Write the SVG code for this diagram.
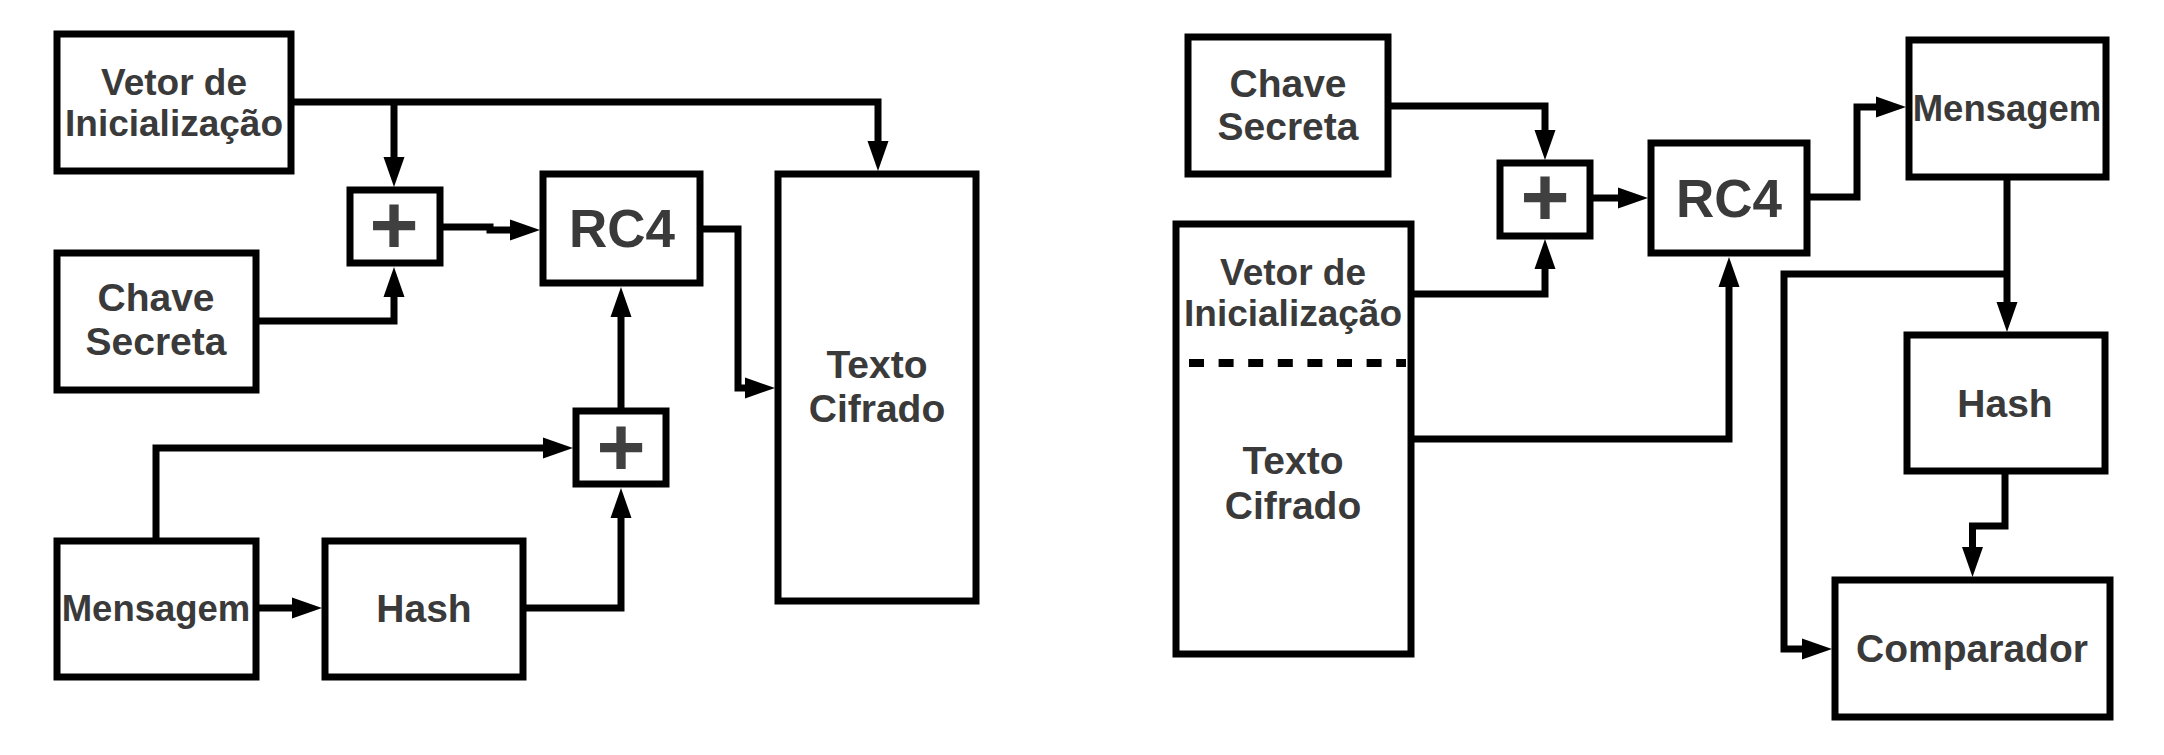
<svg xmlns="http://www.w3.org/2000/svg" width="2164" height="755" viewBox="0 0 2164 755">
<style>
.box{fill:#fff;stroke:#000;stroke-width:7}
.ln{fill:none;stroke:#000;stroke-width:7}
.arr{marker-end:url(#ah)}
.t{font-family:"Liberation Sans",Arial,sans-serif;font-weight:bold;font-size:39px;fill:#3a3a3a;text-anchor:middle}
.s{font-size:37px}
.m{font-size:36.5px}
.big{font-size:53px}
.plus{font-family:"Liberation Sans",Arial,sans-serif;font-weight:bold;font-size:84px;fill:#404040;text-anchor:middle}
.dash{fill:none;stroke:#000;stroke-width:8;stroke-dasharray:15 14.6}
</style>
<defs>
<marker id="ah" markerUnits="userSpaceOnUse" markerWidth="32" markerHeight="22" viewBox="0 -11 32 22" refX="0" refY="0" orient="auto" overflow="visible">
<path d="M0,-10.5 L30,0 L0,10.5 z" fill="#000"/>
</marker>
</defs>
<rect width="2164" height="755" fill="#fff"/>
<g id="connectors">
<path class="ln arr" d="M291,102 H878 V141"/>
<path class="ln arr" d="M394,102 V157"/>
<path class="ln arr" d="M256,321 H394 V297"/>
<path class="ln arr" d="M443,227 H490 V230 H510"/>
<path class="ln arr" d="M700,229 H738 V388 H745"/>
<path class="ln arr" d="M156,541 V448 H543"/>
<path class="ln arr" d="M621,408 V317"/>
<path class="ln arr" d="M256,608 H292"/>
<path class="ln arr" d="M523,608 H621 V518"/>
<path class="ln arr" d="M1388,106 H1545 V130"/>
<path class="ln arr" d="M1411,294 H1545 V269"/>
<path class="ln arr" d="M1593,198 H1618"/>
<path class="ln arr" d="M1411,439 H1729 V287"/>
<path class="ln arr" d="M1807,197 H1857 V107 H1876"/>
<path class="ln arr" d="M2007,177 V302"/>
<path class="ln arr" d="M2007,274 H1784 V649 H1802"/>
<path class="ln arr" d="M2005,471 V526 H1972.5 V547"/>
</g>
<g id="vetor-l"><rect class="box" x="57" y="34" width="234" height="137"/><text class="t s" x="174" y="94.5">Vetor de</text><text class="t s" x="174" y="135.5">Inicialização</text></g>
<g id="chave-l"><rect class="box" x="57" y="253" width="199" height="137"/><text class="t" x="156" y="311">Chave</text><text class="t" x="156" y="355">Secreta</text></g>
<g id="plus1"><rect class="box" x="350" y="190" width="90" height="73"/><text class="plus" x="394" y="254">+</text></g>
<g id="rc4-l"><rect class="box" x="543" y="174" width="157" height="109"/><text class="t big" x="622" y="247">RC4</text></g>
<g id="texto-l"><rect class="box" x="778" y="174" width="198" height="427"/><text class="t" x="877" y="378">Texto</text><text class="t" x="877" y="422">Cifrado</text></g>
<g id="plus2"><rect class="box" x="576" y="411" width="90" height="73"/><text class="plus" x="621" y="476">+</text></g>
<g id="mensagem-l"><rect class="box" x="57" y="541" width="199" height="136"/><text class="t m" x="156" y="621">Mensagem</text></g>
<g id="hash-l"><rect class="box" x="325" y="541" width="198" height="136"/><text class="t" x="424" y="621.5">Hash</text></g>
<g id="chave-r"><rect class="box" x="1188" y="37" width="200" height="137"/><text class="t" x="1288" y="97">Chave</text><text class="t" x="1288" y="140">Secreta</text></g>
<g id="vi-texto-r"><rect class="box" x="1176" y="224" width="235" height="430"/><path class="dash" d="M1189,363 H1406"/><text class="t s" x="1293" y="285">Vetor de</text><text class="t s" x="1293" y="326">Inicialização</text><text class="t" x="1293" y="474">Texto</text><text class="t" x="1293" y="519">Cifrado</text></g>
<g id="plus3"><rect class="box" x="1500" y="163" width="90" height="73"/><text class="plus" x="1545" y="226">+</text></g>
<g id="rc4-r"><rect class="box" x="1651" y="143" width="156" height="110"/><text class="t big" x="1729" y="217">RC4</text></g>
<g id="mensagem-r"><rect class="box" x="1909" y="40" width="197" height="137"/><text class="t m" x="2007" y="121">Mensagem</text></g>
<g id="hash-r"><rect class="box" x="1907" y="335" width="198" height="136"/><text class="t" x="2005" y="417">Hash</text></g>
<g id="comparador"><rect class="box" x="1835" y="580" width="275" height="137"/><text class="t" x="1972" y="662">Comparador</text></g>
</svg>
